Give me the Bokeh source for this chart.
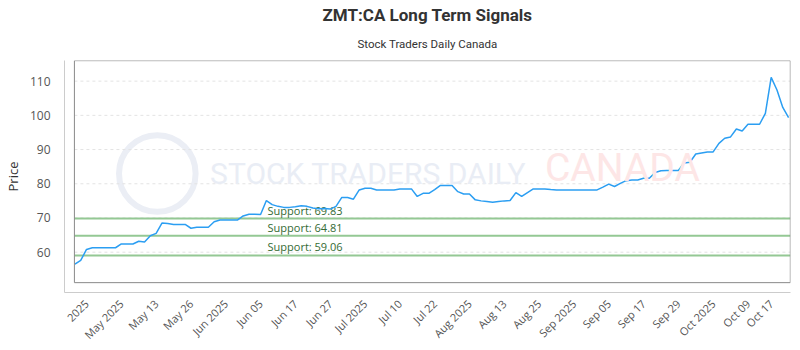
from bokeh.plotting import figure
from bokeh.models import (Range1d, FixedTicker, Title, Label, ColumnDataSource,
                          BoxAnnotation)
from bokeh.core.properties import value
from bokeh.embed import file_html
from bokeh.resources import INLINE

# ---- data ----
prices = [
    56.5, 57.6, 60.8, 61.3, 61.3, 61.3, 61.3, 61.3, 62.4, 62.4,
    62.4, 63.2, 63.0, 64.8, 65.5, 68.5, 68.4, 68.1, 68.1, 68.1,
    67.0, 67.3, 67.3, 67.3, 68.9, 69.4, 69.4, 69.4, 69.4, 70.6,
    71.1, 71.1, 71.0, 75.1, 73.9, 73.4, 73.1, 73.1, 73.3, 73.6,
    73.4, 72.9, 72.7, 72.8, 72.6, 73.4, 76.0, 76.0, 75.5, 78.2,
    78.7, 78.7, 78.2, 78.2, 78.2, 78.2, 78.5, 78.5, 78.5, 76.3,
    77.2, 77.2, 78.3, 79.5, 79.5, 79.5, 77.7, 77.0, 77.0, 75.3,
    75.0, 74.8, 74.6, 74.8, 75.0, 75.1, 77.4, 76.3, 77.4, 78.5,
    78.5, 78.5, 78.3, 78.2, 78.2, 78.2, 78.2, 78.2, 78.2, 78.2,
    78.2, 79.0, 79.9, 79.2, 80.1, 80.9, 81.1, 81.1, 81.6, 81.6,
    83.3, 83.8, 83.9, 83.9, 83.9, 86.1, 86.3, 88.7, 89.0, 89.3,
    89.3, 91.8, 93.3, 93.7, 96.0, 95.4, 97.4, 97.4, 97.4, 100.6,
    111.1, 107.4, 102.3, 99.3,
]
supports = [69.83, 64.81, 59.06]
tick_labels = ["2025", "May 2025", "May 13", "May 26", "Jun 2025", "Jun 05",
               "Jun 17", "Jun 27", "Jul 2025", "Jul 10", "Jul 22", "Aug 2025",
               "Aug 13", "Aug 25", "Sep 2025", "Sep 05", "Sep 17", "Sep 29",
               "Oct 2025", "Oct 09", "Oct 17"]
tick_index = [2 + 6 * k for k in range(20)] + [120]
y_ticks = [60, 70, 80, 90, 100, 110]

idx = list(range(len(prices)))

# plot-area box (inside the offset axes)
X_LEFT, X_RIGHT = -0.085, 123.30
Y_BOTTOM, Y_TOP = 51.1, 115.98

p = figure(width=800, height=350, output_backend="svg", toolbar_location=None,
           x_range=Range1d(-1.795, 123.33), y_range=Range1d(48.22, 116.03),
           min_border_left=58, min_border_right=10, min_border_top=60,
           min_border_bottom=54)

p.background_fill_color = "white"
p.border_fill_color = "white"
p.outline_line_color = None

# watermark
p.circle(x=[14.2], y=[83.0], radius=6.6, fill_color=None,
         line_color="#ebeef5", line_width=6, radius_units="data")
p.add_layout(Label(x=23.3, y=78.0, text="STOCK TRADERS DAILY",
                   text_font="Roboto", text_font_size="30px",
                   text_color="#e9edf5"))
p.add_layout(Label(x=81.0, y=78.0, text="CANADA",
                   text_font="Roboto", text_font_size="39px",
                   text_color="#fde6e6"))

# dashed grid limited to the plot box
n = len(y_ticks)
p.segment(x0=[X_LEFT] * n, x1=[X_RIGHT] * n, y0=y_ticks, y1=y_ticks,
          line_color="#e3e3e3", line_dash="3 3", line_width=1)

# support lines
m = len(supports)
p.segment(x0=[X_LEFT] * m, x1=[X_RIGHT] * m, y0=supports, y1=supports,
          line_color="#94c894", line_width=2)
src = ColumnDataSource(dict(x=[33.2] * m, y=supports,
                            t=["Support: %.2f" % s for s in supports]))
p.text(x="x", y="y", text="t", source=src, text_font=value("Open Sans"),
       text_font_size="11px", text_color="#346b34", text_baseline="bottom",
       y_offset=-1)

# price line
p.line(idx, prices, line_color="#2b9ef2", line_width=1.5)

# plot box border
p.add_layout(BoxAnnotation(left=X_LEFT, right=X_RIGHT, bottom=Y_BOTTOM, top=Y_TOP,
                           fill_color=None, fill_alpha=0, line_color="#8a8a8a",
                           line_width=1, line_alpha=1))

# axes
p.xaxis.ticker = FixedTicker(ticks=tick_index)
p.xaxis.major_label_overrides = {i: t for i, t in zip(tick_index, tick_labels)}
p.xaxis.major_label_orientation = 0.785398
p.xaxis.major_label_text_font = "Open Sans"
p.xaxis.major_label_text_font_size = "11px"
p.xaxis.major_label_text_color = "#555555"
p.xaxis.axis_line_color = "#cccccc"
p.xaxis.major_tick_line_color = None
p.xaxis.minor_tick_line_color = None
p.xaxis.major_label_standoff = 3

p.yaxis.ticker = FixedTicker(ticks=y_ticks)
p.yaxis.axis_label = "Price"
p.yaxis.axis_label_text_font = "Open Sans"
p.yaxis.axis_label_text_font_style = "normal"
p.yaxis.axis_label_text_font_size = "13px"
p.yaxis.axis_label_text_color = "#333333"
p.yaxis.major_label_text_font = "Open Sans"
p.yaxis.major_label_text_font_size = "12px"
p.yaxis.major_label_text_color = "#555555"
p.yaxis.axis_line_color = "#cccccc"
p.yaxis.major_tick_line_color = None
p.yaxis.minor_tick_line_color = None
p.yaxis.major_label_standoff = 8

p.xgrid.grid_line_color = None
p.ygrid.grid_line_color = None

p.add_layout(Title(text="Stock Traders Daily Canada", align="center",
                   text_font="Roboto", text_font_size="11.5px", standoff=20,
                   text_font_style="normal", text_color="#333333"), "above")
p.add_layout(Title(text="ZMT:CA Long Term Signals", align="center",
                   text_font="Roboto", text_font_size="17px", standoff=0,
                   text_font_style="bold", text_color="#333333"), "above")

open("out.html", "w").write(file_html(p, INLINE))
